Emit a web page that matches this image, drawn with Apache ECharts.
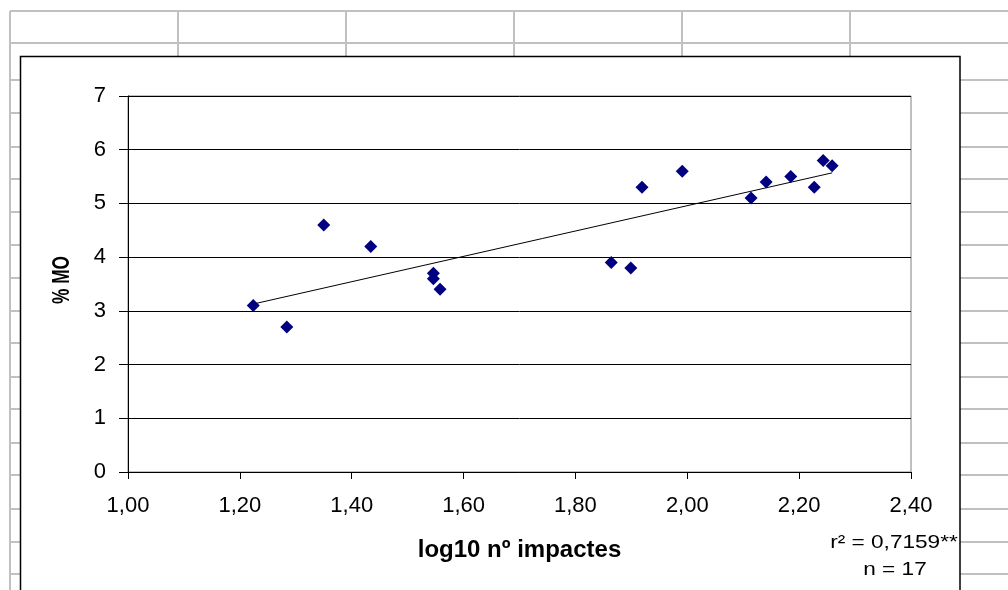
<!DOCTYPE html>
<html>
<head>
<meta charset="utf-8">
<script src="https://cdn.jsdelivr.net/npm/echarts@6/dist/echarts.min.js"></script>
<style>
  html, body { margin: 0; padding: 0; background: #fff; }
  #chart { width: 1008px; height: 590px; }
</style>
</head>
<body>
<div id="chart"></div>
<script>
// ---- data ----
const logImpacts = [1.224, 1.284, 1.350, 1.434, 1.546, 1.546, 1.558, 1.864, 1.899, 1.919, 1.991, 2.114, 2.141, 2.185, 2.227, 2.243, 2.259];
const pctMO      = [3.1,   2.7,   4.6,   4.2,   3.7,   3.6,   3.4,   3.9,   3.8,   5.3,   5.6,   5.1,   5.4,   5.5,   5.3,   5.8,   5.7];
const xTickLabels = ['1,00', '1,20', '1,40', '1,60', '1,80', '2,00', '2,20', '2,40'];
const yTickLabels = ['0', '1', '2', '3', '4', '5', '6', '7'];
const xTitle = 'log10 nº impactes';
const yTitle = '% MO';
const statsText = ['r² = 0,7159**', 'n = 17'];

// least-squares trend line computed from the data
const n = logImpacts.length;
const mx = logImpacts.reduce((a, b) => a + b, 0) / n;
const my = pctMO.reduce((a, b) => a + b, 0) / n;
let sxy = 0, sxx = 0;
for (let i = 0; i < n; i++) { sxy += (logImpacts[i] - mx) * (pctMO[i] - my); sxx += (logImpacts[i] - mx) ** 2; }
const slope = sxy / sxx, intercept = my - slope * mx;
const xMin = Math.min(...logImpacts), xMax = Math.max(...logImpacts);
const trend = [[xMin, intercept + slope * xMin], [xMax, intercept + slope * xMax]];

const points = logImpacts.map((x, i) => [x, pctMO[i]]);

// ---- spreadsheet background (decoration) ----
const GRAY = '#c0c0c0';
const rows = [80, 113, 147, 179, 212, 245, 278, 311, 343, 377, 409, 443, 475, 509, 542, 574];
const cols = [10, 178, 346, 514, 682, 850];
const bg = [];
bg.push({ type: 'line', z: -20, shape: { x1: 10, y1: 11, x2: 1008, y2: 11 }, style: { stroke: GRAY, lineWidth: 2 } });
bg.push({ type: 'line', z: -20, shape: { x1: 10, y1: 43, x2: 1008, y2: 43 }, style: { stroke: GRAY, lineWidth: 2 } });
cols.forEach(c => bg.push({ type: 'line', z: -20, shape: { x1: c, y1: 11, x2: c, y2: c === 10 ? 590 : 60 }, style: { stroke: GRAY, lineWidth: 2 } }));
rows.forEach(r => bg.push({ type: 'line', z: -20, shape: { x1: 10, y1: r, x2: 1008, y2: r }, style: { stroke: GRAY, lineWidth: 2 } }));
// chart area box
bg.push({ type: 'rect', z: -10, shape: { x: 20.5, y: 56.5, width: 939.5, height: 560 }, style: { fill: '#fff', stroke: '#000', lineWidth: 1.5 } });

const FONT = '"Liberation Sans", Arial, sans-serif';

const chart = echarts.init(document.getElementById('chart'), null, { renderer: 'canvas' });
chart.setOption({
  animation: false,
  backgroundColor: '#fff',
  grid: { left: 128, right: 97, top: 96, bottom: 118, show: true, borderColor: '#808080', borderWidth: 1, backgroundColor: 'transparent' },
  xAxis: {
    type: 'value', min: 1, max: 2.4, interval: 0.2,
    name: xTitle, nameLocation: 'middle', nameGap: 66,
    nameTextStyle: { fontFamily: FONT, fontSize: 24, fontWeight: 'bold', color: '#000' },
    axisLine: { show: true, onZero: false, lineStyle: { color: '#000', width: 1 } },
    axisTick: { show: true, length: 7, lineStyle: { color: '#000' } },
    axisLabel: {
      margin: 23, fontFamily: FONT, fontSize: 22, color: '#000',
      formatter: v => xTickLabels[Math.round((v - 1) / 0.2)]
    },
    splitLine: { show: false }
  },
  yAxis: {
    type: 'value', min: 0, max: 7, interval: 1,
    axisLine: { show: true, lineStyle: { color: '#000', width: 1 } },
    axisTick: { show: true, length: 9, lineStyle: { color: '#000' } },
    axisLabel: { margin: 22, fontFamily: FONT, fontSize: 22, color: '#000', formatter: v => yTickLabels[v] },
    splitLine: { show: true, lineStyle: { color: '#000', width: 1 } }
  },
  graphic: bg.concat([
    { type: 'text', x: 62, y: 280, rotation: Math.PI / 2, scaleX: 0.72, z: 10,
      style: { text: yTitle, fontFamily: FONT, fontSize: 24, fontWeight: 'bold', fill: '#000', align: 'center', verticalAlign: 'middle' } },
    { type: 'text', x: 894, y: 543, scaleX: 1.19, z: 10,
      style: { text: statsText[0], fontFamily: FONT, fontSize: 19, fill: '#000', align: 'center', verticalAlign: 'middle' } },
    { type: 'text', x: 895, y: 570, scaleX: 1.19, z: 10,
      style: { text: statsText[1], fontFamily: FONT, fontSize: 19, fill: '#000', align: 'center', verticalAlign: 'middle' } }
  ]),
  series: [
    { type: 'line', data: trend, symbol: 'none', silent: true, z: 3,
      lineStyle: { color: '#000', width: 1 } },
    { type: 'scatter', data: points, symbol: 'diamond', symbolSize: 13, z: 5,
      itemStyle: { color: '#000080', opacity: 1 } }
  ]
});
</script>
</body>
</html>
